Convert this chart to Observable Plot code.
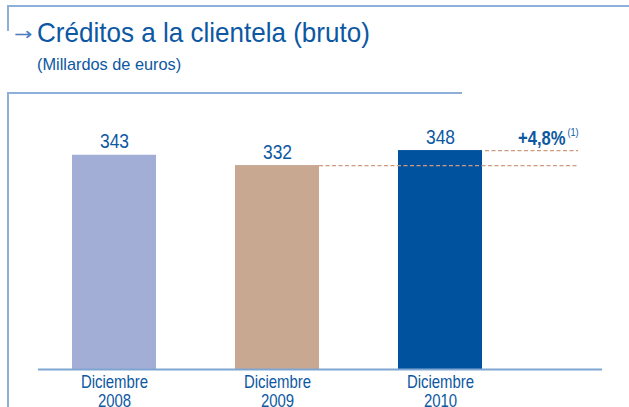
<!DOCTYPE html>
<html>
<head>
<meta charset="utf-8">
<script src="https://cdn.jsdelivr.net/npm/d3@7"></script>
<script src="https://cdn.jsdelivr.net/npm/@observablehq/plot@0.6"></script>
<style>
  body { margin: 0; background: #fff; }
  #wrap { position: relative; width: 629px; height: 407px; overflow: hidden;
          font-family: 'Liberation Sans', Arial, sans-serif; color: #0d58a2; }
  .ln { position: absolute; background: #8db0d9; }
  .txt { position: absolute; white-space: nowrap; transform-origin: left center; }
  #arrow { left: 14px; top: 23px; font-family: 'DejaVu Sans', sans-serif; font-size: 22px; line-height: 22px; color: #4a7dbf; transform: scaleY(0.8); }
  #title { left: 37px; top: 19px; font-size: 28px; line-height: 28px; transform: scaleX(0.93); }
  #subtitle { left: 37px; top: 56px; font-size: 17px; line-height: 17px; transform: scaleX(0.96); }
  #chart { position: absolute; left: 0; top: 93px; }
</style>
</head>
<body>
<div id="wrap">
  <div class="ln" style="left:7px;top:5px;width:622px;height:2px"></div>
  <div class="ln" style="left:7px;top:5px;width:2px;height:26px"></div>
  <div class="ln" style="left:7px;top:92px;width:455px;height:2px"></div>
  <div class="ln" style="left:7px;top:92px;width:2px;height:315px"></div>
  <div class="txt" id="arrow">→</div>
  <div class="txt" id="title">Créditos a la clientela (bruto)</div>
  <div class="txt" id="subtitle">(Millardos de euros)</div>
  <div id="chart"></div>
</div>
<script>
// Data
const categories = ["Diciembre\n2008", "Diciembre\n2009", "Diciembre\n2010"];
const values = [343, 332, 348];
const barColors = ["#a2aed6", "#c9a892", "#00529e"];
const changeLabel = "+4,8%";
const changeNote = "(1)";
const axisMin = 114;
const axisMax = 409;

const data = categories.map((c, i) => ({cat: c, value: values[i], color: barColors[i]}));
const textBlue = "#0d58a2";
const dashColor = "#cf9a80";

const plot = Plot.plot({
  width: 629,
  height: 314,
  marginLeft: 38,
  marginRight: 27,
  marginTop: 0,
  marginBottom: 38,
  style: {fontFamily: "'Liberation Sans', Arial, sans-serif", background: "transparent", overflow: "visible"},
  x: {type: "band", domain: categories, paddingInner: 0.486, paddingOuter: 0.468, align: 0.222, axis: null},
  y: {domain: [axisMin, axisMax], axis: null},
  marks: [
    Plot.barY(data, {x: "cat", y1: axisMin, y2: "value", fill: "color"}),
    Plot.ruleY([axisMin], {stroke: "#7ea5d2", strokeWidth: 2}),
    // dashed reference lines
    Plot.ruleY([{y: values[1]}], {y: "y", x1: () => categories[1], x2: () => categories[2], insetLeft: 84, insetRight: -96, stroke: dashColor, strokeWidth: 1.3, strokeDasharray: "4,2.5"}),
    Plot.ruleY([{y: values[2]}], {y: "y", x1: () => categories[2], x2: () => categories[2], insetLeft: 87, insetRight: -96, stroke: dashColor, strokeWidth: 1.3, strokeDasharray: "4,2.5"}),
    // value labels
    Plot.text(data, {x: "cat", y: "value", text: d => String(d.value), dy: -7, lineAnchor: "bottom", fontSize: 21, fill: textBlue}),
    // change annotation
    Plot.text([values[2]], {x: () => categories[2], y: d => d, text: () => changeLabel, dx: 125, dy: -6, textAnchor: "end", lineAnchor: "bottom", fontSize: 20, fontWeight: "bold", fill: textBlue}),
    Plot.text([values[2]], {x: () => categories[2], y: d => d, text: () => changeNote, dx: 127, dy: -15, textAnchor: "start", lineAnchor: "bottom", fontSize: 11, fill: textBlue}),
    // category labels
    Plot.text(categories, {x: d => d, y: axisMin, text: d => d, lineAnchor: "top", dy: 5.5, fontSize: 18, lineHeight: 1.05, fill: textBlue})
  ]
});
document.getElementById("chart").appendChild(plot);

// condense the chart's labels horizontally around their anchor (the original uses a condensed face)
d3.select(plot).selectAll("text").each(function () {
  const tr = this.getAttribute("transform");
  if (tr) {
    this.setAttribute("transform", tr + " scale(0.83,1)");
  } else {
    const x = +(this.getAttribute("x") || 0), y = +(this.getAttribute("y") || 0);
    this.setAttribute("transform", `translate(${x},${y}) scale(0.83,1) translate(${-x},${-y})`);
  }
});
</script>
</body>
</html>
